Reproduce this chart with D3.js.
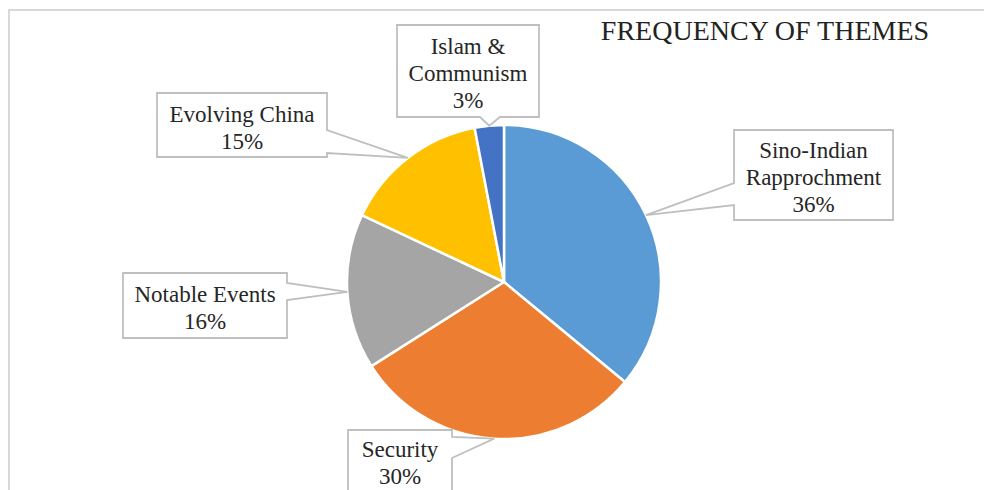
<!DOCTYPE html>
<html>
<head>
<meta charset="utf-8">
<script src="https://cdn.jsdelivr.net/npm/d3@7"></script>
<style>
  html, body { margin: 0; padding: 0; background: #fff; }
  svg { display: block; }
  .serif { font-family: "Liberation Serif", "Tinos", "Times New Roman", "DejaVu Serif", serif; }
</style>
</head>
<body>
<svg id="chart" width="984" height="490"></svg>
<script>
// ---- data ----
const title = "FREQUENCY OF THEMES";
const categories = ["Sino-Indian Rapprochment", "Security", "Notable Events", "Evolving China", "Islam & Communism"];
const values = [36, 30, 16, 15, 3];
const labelLines = [["Sino-Indian", "Rapprochment"], ["Security"], ["Notable Events"], ["Evolving China"], ["Islam &", "Communism"]];
const colors = ["#5B9BD5", "#ED7D31", "#A5A5A5", "#FFC000", "#4472C4"];

// ---- layout (callout boxes) ----
const boxes = [
  {x: 734, y: 130, w: 159, h: 90, side: "left",   b0: 183, b1: 205, dy: 2},
  {x: 348, y: 430, w: 104, h: 67, side: "right",  b0: 437, b1: 458, dy: -1},
  {x: 123, y: 273, w: 164, h: 65, side: "right",  b0: 283, b1: 300, dy: 2},
  {x: 157, y: 93,  w: 170, h: 64, side: "right",  b0: 130, b1: 153, dy: 2},
  {x: 397, y: 25,  w: 142, h: 92, side: "bottom", b0: 480, b1: 500, dy: 2}
];

const W = 984, H = 490;
const cx = 504, cy = 282, R = 157;

const svg = d3.select("#chart");

// outer chart border (extends beyond the picture right and bottom)
svg.append("rect")
  .attr("x", 9).attr("y", 10)
  .attr("width", W + 20).attr("height", H + 20)
  .attr("fill", "#fff")
  .attr("stroke", "#d9d9d9").attr("stroke-width", 2);

// title
svg.append("text")
  .attr("class", "serif")
  .attr("x", 765).attr("y", 40)
  .attr("text-anchor", "middle")
  .attr("font-size", 28)
  .attr("fill", "#222")
  .text(title);

const total = d3.sum(values);
const pct = d3.format(".0%");

const pie = d3.pie().sort(null).value(d => d).startAngle(0).endAngle(2 * Math.PI);
const arcs = pie(values);
const arc = d3.arc().innerRadius(0).outerRadius(R);
const edgeArc = d3.arc().innerRadius(R).outerRadius(R);

const g = svg.append("g").attr("transform", `translate(${cx},${cy})`);
g.selectAll("path.slice")
  .data(arcs)
  .join("path")
  .attr("class", "slice")
  .attr("d", arc)
  .attr("fill", (d, i) => colors[i])
  .attr("stroke", "#fff")
  .attr("stroke-width", 2.5)
  .attr("stroke-linejoin", "round");

// callouts
function calloutPath(b, tip) {
  const {x, y, w, h, side, b0, b1} = b;
  const p = d3.path();
  p.moveTo(x, y);
  p.lineTo(x + w, y);
  if (side === "right") { p.lineTo(x + w, b0); p.lineTo(tip[0], tip[1]); p.lineTo(x + w, b1); }
  p.lineTo(x + w, y + h);
  if (side === "bottom") { p.lineTo(b1, y + h); p.lineTo(tip[0], tip[1]); p.lineTo(b0, y + h); }
  p.lineTo(x, y + h);
  if (side === "left") { p.lineTo(x, b1); p.lineTo(tip[0], tip[1]); p.lineTo(x, b0); }
  p.closePath();
  return p.toString();
}

const lineH = 27;
arcs.forEach((d, i) => {
  const c = edgeArc.centroid(d);
  const tip = [cx + c[0], cy + c[1]];
  const b = boxes[i];
  svg.append("path")
    .attr("d", calloutPath(b, tip))
    .attr("fill", "#fff")
    .attr("stroke", "#bfbfbf")
    .attr("stroke-width", 1.8)
    .attr("stroke-linejoin", "miter");

  const lines = labelLines[i].concat([pct(d.value / total)]);
  const midY = b.y + b.h / 2 + b.dy;
  const startY = midY - (lines.length - 1) * lineH / 2;
  const t = svg.append("text")
    .attr("class", "serif")
    .attr("text-anchor", "middle")
    .attr("font-size", 23)
    .attr("fill", "#262626");
  lines.forEach((ln, k) => {
    t.append("tspan")
      .attr("x", b.x + b.w / 2)
      .attr("y", startY + k * lineH)
      .attr("dy", "0.35em")
      .text(ln);
  });
});
</script>
</body>
</html>
